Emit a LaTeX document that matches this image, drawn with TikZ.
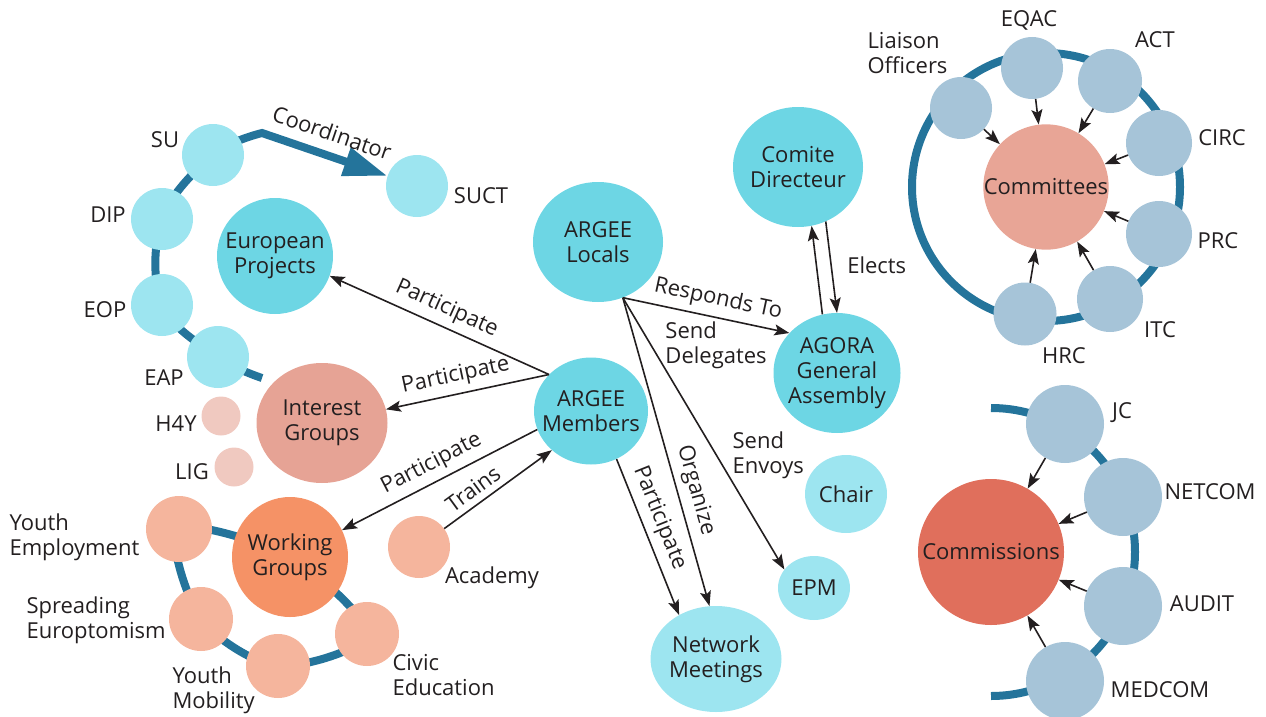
\documentclass[tikz,border=0pt]{standalone}
\usepackage{fontspec}
\setmainfont{Open Sans}
\usetikzlibrary{shapes.geometric, arrows.meta, backgrounds}

\definecolor{hubcyan}{RGB}{109,214,228}
\definecolor{lightcyan}{RGB}{157,229,240}
\definecolor{ringblue}{RGB}{36,116,155}
\definecolor{interest}{RGB}{230,163,149}
\definecolor{palerose}{RGB}{240,201,192}
\definecolor{working}{RGB}{245,146,102}
\definecolor{peach}{RGB}{245,181,157}
\definecolor{committee}{RGB}{232,165,150}
\definecolor{commission}{RGB}{224,111,92}
\definecolor{greyblue}{RGB}{166,196,216}
\definecolor{ink}{RGB}{35,31,32}

\begin{document}
\begin{tikzpicture}[x=1pt, y=-1pt,
  every node/.style={font=\fontsize{22}{25}\selectfont, text=ink},
  blob/.style={ellipse, inner xsep=-12pt, inner ysep=0pt, align=center},
  dot/.style={circle, inner sep=0pt},
  arr/.style={draw=ink, line width=1.6pt, -{Stealth[length=15pt, width=11pt, inset=3pt]}},
  ring/.style={draw=ringblue, line width=8pt},
  lbl/.style={sloped, above=3pt}]
\useasboundingbox (0,0) rectangle (1266,717);

% projects
\node (europe) [blob, fill=hubcyan, minimum width=116pt, minimum height=116pt] at (275,256) {European\\Projects};
\node (su) [dot, fill=lightcyan, minimum size=62pt] at (213,155) {};
\node (dip) [dot, fill=lightcyan, minimum size=62pt] at (162,219) {};
\node (eop) [dot, fill=lightcyan, minimum size=62pt] at (162,305) {};
\node (eap) [dot, fill=lightcyan, minimum size=62pt] at (218,357) {};
\node (suct) [dot, fill=lightcyan, minimum size=62pt] at (417,186) {};
\node (su-txt) at (165,140) {SU};
\node (dip-txt) at (108,215) {DIP};
\node (eop-txt) at (105,310) {EOP};
\node (eap-txt) at (164,378) {EAP};
\node (suct-txt) at (481,196) {SUCT};

% interest groups
\node (interest) [blob, fill=interest, minimum width=131pt, minimum height=120pt] at (322,423) {Interest\\Groups};
\node (h4y) [dot, fill=palerose, minimum size=39pt] at (221,416) {};
\node (lig) [dot, fill=palerose, minimum size=39pt] at (234,467) {};
\node (h4y-txt) at (176,424) {H4Y};
\node (lig-txt) at (192,472) {LIG};

% working groups
\node (working) [blob, fill=working, minimum width=116pt, minimum height=120pt] at (290,557) {Working\\Groups};
\node (ye) [dot, fill=peach, minimum size=66pt] at (179,529) {};
\node (se) [dot, fill=peach, minimum size=64pt] at (201,619) {};
\node (ym) [dot, fill=peach, minimum size=64pt] at (278,666) {};
\node (ce) [dot, fill=peach, minimum size=64pt] at (367,634) {};
\node (academy) [dot, fill=peach, minimum size=62pt] at (419,547) {};
\node (ye-txt) [anchor=west, align=left] at (6,537) {Youth\\Employment};
\node (se-txt) [anchor=west, align=left] at (23,620) {Spreading\\Europtomism};
\node (ym-txt) [anchor=west, align=left] at (169,690) {Youth\\Mobility};
\node (ce-txt) [anchor=west, align=left] at (389,675) {Civic\\Education};
\node (academy-txt) at (492,578) {Academy};

% argee
\node (locals) [blob, fill=hubcyan, minimum width=130pt, minimum height=120pt] at (598,242) {ARGEE\\Locals};
\node (members) [blob, fill=hubcyan, minimum width=114pt, minimum height=107pt] at (591,411) {ARGEE\\Members};
\node (comite) [blob, fill=hubcyan, minimum width=130pt, minimum height=120pt] at (798,167) {Comite\\Directeur};
\node (agora) [blob, fill=hubcyan, minimum width=127pt, minimum height=120pt] at (837,373) {AGORA\\General\\Assembly};
\node (network) [blob, fill=lightcyan, minimum width=131pt, minimum height=106pt] at (716,659) {Network\\Meetings};
\node (epm) [blob, fill=lightcyan, minimum width=72pt, minimum height=64pt] at (814,588) {EPM};
\node (chair) [blob, fill=lightcyan, minimum width=82pt, minimum height=78pt] at (846,494) {Chair};

% committees
\node (committees) [dot, fill=committee, minimum size=124pt] at (1046,187) {Committees};
\node (liaison) [dot, fill=greyblue, minimum size=62pt] at (961,108) {};
\node (eqac) [dot, fill=greyblue, minimum size=62pt] at (1032,68) {};
\node (act) [dot, fill=greyblue, minimum size=64pt] at (1110,81) {};
\node (circ) [dot, fill=greyblue, minimum size=66pt] at (1159,143) {};
\node (prc) [dot, fill=greyblue, minimum size=66pt] at (1159,234) {};
\node (itc) [dot, fill=greyblue, minimum size=66pt] at (1110,299) {};
\node (hrc) [dot, fill=greyblue, minimum size=63pt] at (1025,314) {};
\node (liaison-txt) [anchor=west, align=left] at (864,53) {Liaison\\Officers};
\node (eqac-txt) at (1029,20) {EQAC};
\node (act-txt) at (1155,40) {ACT};
\node (circ-txt) at (1222,138) {CIRC};
\node (prc-txt) at (1218,241) {PRC};
\node (itc-txt) at (1160,330) {ITC};
\node (hrc-txt) at (1064,356) {HRC};

% commissions
\node (commissions) [dot, fill=commission, minimum size=146pt] at (991,552) {Commissions};
\node (jc) [dot, fill=greyblue, minimum size=78pt] at (1065,424) {};
\node (netcom) [dot, fill=greyblue, minimum size=78pt] at (1123,497) {};
\node (audit) [dot, fill=greyblue, minimum size=78pt] at (1123,606) {};
\node (medcom) [dot, fill=greyblue, minimum size=78pt] at (1065,681) {};
\node (jc-txt) at (1122,413) {JC};
\node (netcom-txt) at (1210,492) {NETCOM};
\node (audit-txt) at (1202,604) {AUDIT};
\node (medcom-txt) at (1160,690) {MEDCOM};

\begin{scope}[on background layer]
\draw[ring, -{Triangle[length=44pt, width=28pt]}] plot[smooth, tension=0.6] coordinates {(262,378) (eap.center) (eop.center) (dip.center) (su.center) (262,133)} -- node[sloped, above=7pt, pos=.5] {Coordinator} (suct);
\draw[ring] plot[smooth cycle] coordinates {(working.center) (ye.center) (se.center) (ym.center) (ce.center)};
\draw[ring] (committees.center) circle[radius=134];
\draw[ring] ([yshift=144pt]commissions.center) arc[start angle=-90, end angle=90, radius=144];
\end{scope}

\draw[arr] (members.139) -- node[lbl, pos=.5] {Participate} (europe.340);
\draw[arr] (members.139) -- node[lbl, pos=.55] {Participate} (interest);
\draw[arr] (members.199) -- node[lbl, pos=.5] {Participate} (working);
\draw[arr] (academy) -- node[lbl, pos=.35] {Trains} (members.225);
\draw[arr] (members.298) -- node[lbl, pos=.42] {Participate} (network.130);

\draw[arr] (locals.294) -- node[lbl, pos=.55] {Responds To} node[below, pos=.56, align=left] {Send\\Delegates} (agora.140);
\draw[arr] (locals.294) -- node[lbl, pos=.64] {Organize} (network.97);
\draw[arr] (locals.294) -- node[pos=.58, right=12pt, align=left] {Send\\Envoys} (epm.148);
\draw[arr] (agora.104) -- (comite.283);
\draw[arr] (comite.297) -- node[pos=.48, right=12pt] {Elects} (agora.90);

\foreach \s in {liaison, eqac, act, circ, prc, itc, hrc}
  \draw[arr] (\s) -- (committees);
\foreach \s in {jc, netcom, audit, medcom}
  \draw[arr] (\s) -- (commissions);
\end{tikzpicture}
\end{document}
